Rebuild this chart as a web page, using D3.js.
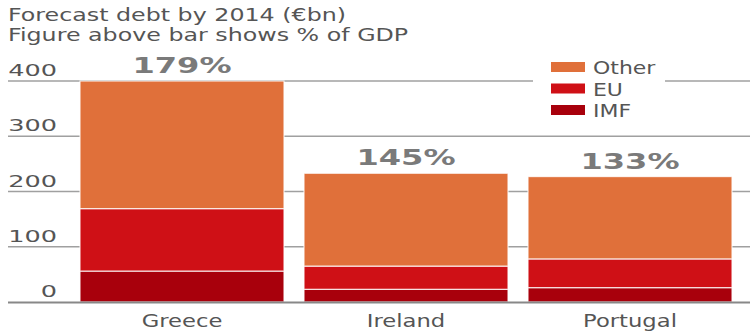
<!DOCTYPE html>
<html>
<head>
<meta charset="utf-8">
<script src="https://cdn.jsdelivr.net/npm/d3@7"></script>
<style>
  html, body { margin: 0; padding: 0; background: #fff; }
  svg { display: block; }
  text { font-family: "DejaVu Sans", sans-serif; }
</style>
</head>
<body>
<svg id="chart" width="750" height="333"></svg>
<script>
// Forecast debt by 2014, €bn, split by creditor
const categories = ["Greece", "Ireland", "Portugal"];
const imf   = [56, 23, 26];
const eu    = [113, 42, 52];
const other = [231, 168, 149];
const gdpShare = ["179%", "145%", "133%"];
const seriesNames = ["IMF", "EU", "Other"];
const yTicks = [0, 100, 200, 300, 400];

const colors = { IMF: "#a8000c", EU: "#cf1016", Other: "#e0703a" };

const W = 750, H = 333;
const svg = d3.select("#chart");

const x = d3.scaleBand()
  .domain(categories)
  .range([70, 742])
  .paddingInner(0.0893)
  .paddingOuter(0.0446);

const y = d3.scaleLinear().domain([0, 400]).range([302, 81]);

// wide type: each text style gets its own horizontal stretch
function placeText(sel, px, py, sx) {
  return sel.attr("transform", `translate(${px},${py}) scale(${sx},1)`);
}

// titles
placeText(svg.append("text"), 8, 21, 1.32)
  .attr("font-size", 18).attr("fill", "#555")
  .text("Forecast debt by 2014 (€bn)");
placeText(svg.append("text"), 8, 41, 1.32)
  .attr("font-size", 18).attr("fill", "#555")
  .text("Figure above bar shows % of GDP");

// gridlines
svg.append("g").selectAll("line")
  .data(yTicks.filter(d => d > 0))
  .join("line")
  .attr("x1", 8).attr("x2", W)
  .attr("y1", d => y(d)).attr("y2", d => y(d))
  .attr("stroke", "#a0a0a0").attr("stroke-width", 1.5);

// tick labels
svg.append("g").selectAll("text")
  .data(yTicks)
  .join("text")
  .each(function (d) { placeText(d3.select(this), 57, y(d) - 5, 1.55); })
  .attr("text-anchor", "end")
  .attr("font-size", 16.5).attr("fill", "#555")
  .text(d => d);

// legend, on a white panel cut out of the top gridline
const legend = svg.append("g");
legend.append("rect")
  .attr("x", 533).attr("y", 55).attr("width", 132).attr("height", 66)
  .attr("fill", "#fff");
const legendOrder = ["Other", "EU", "IMF"];
legendOrder.forEach((name, i) => {
  const cy = 67 + i * 21.5;
  legend.append("rect")
    .attr("x", 551).attr("y", cy - 5).attr("width", 34).attr("height", 10)
    .attr("fill", colors[name]);
  placeText(legend.append("text"), 593, cy + 7, 1.22)
    .attr("font-size", 18).attr("fill", "#555")
    .text(name);
});

// stacked bars
const rows = categories.map((c, i) => ({ cat: c, IMF: imf[i], EU: eu[i], Other: other[i] }));
const stack = d3.stack().keys(seriesNames)(rows);

svg.append("g").selectAll("g")
  .data(stack)
  .join("g")
  .attr("fill", s => colors[s.key])
  .selectAll("rect")
  .data(s => s)
  .join("rect")
  .attr("x", d => x(d.data.cat))
  .attr("width", x.bandwidth())
  .attr("y", d => y(d[1]))
  .attr("height", d => y(d[0]) - y(d[1]))
  .attr("stroke", "#fff")
  .attr("stroke-opacity", 0.8)
  .attr("stroke-width", 1.2);

// baseline
svg.append("line")
  .attr("x1", 8).attr("x2", W)
  .attr("y1", y(0) + 0.5).attr("y2", y(0) + 0.5)
  .attr("stroke", "#888").attr("stroke-width", 2);

// % of GDP above bars
svg.append("g").selectAll("text")
  .data(rows)
  .join("text")
  .each(function (d, i) {
    const total = imf[i] + eu[i] + other[i];
    placeText(d3.select(this), x(d.cat) + x.bandwidth() / 2, y(total) - 8, 1.46);
  })
  .attr("text-anchor", "middle")
  .attr("font-size", 22).attr("font-weight", "bold").attr("fill", "#7a7a7a")
  .text((d, i) => gdpShare[i]);

// category labels
svg.append("g").selectAll("text")
  .data(categories)
  .join("text")
  .each(function (d) { placeText(d3.select(this), x(d) + x.bandwidth() / 2, 327, 1.26); })
  .attr("text-anchor", "middle")
  .attr("font-size", 18).attr("fill", "#555")
  .text(d => d);
</script>
</body>
</html>
